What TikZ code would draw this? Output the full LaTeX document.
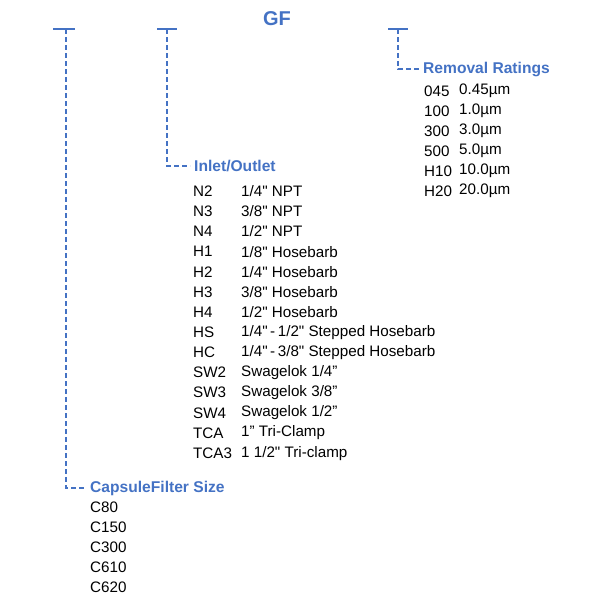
\documentclass[tikz,border=0pt]{standalone}
\usepackage{fontspec}
\setmainfont{Liberation Sans}[Ligatures=TeXOff]
\definecolor{hb}{HTML}{4472C4}
\begin{document}
\begin{tikzpicture}[x=1pt,y=1pt,
  bar/.style={hb, line width=1.5pt},
  lead/.style={hb, line width=1.5pt, dash pattern=on 5pt off 3pt},
  head/.style={anchor=west, text=hb, font=\bfseries\fontsize{15.6}{16}\selectfont, inner sep=0pt},
  item/.style={anchor=west, font=\fontsize{15.2}{15}\selectfont, inner sep=0pt, text=black}]
\useasboundingbox (0,0) rectangle (590,-600);
\node[text=hb, font=\bfseries\fontsize{20}{20}\selectfont] (gf) at (277,-19) {GF};
% bars
\coordinate (t1) at (66,-29); \coordinate (t2) at (167,-29); \coordinate (t3) at (398,-29);
\draw[bar] ([xshift=-13]t1) -- ([xshift=9]t1);
\draw[bar] ([xshift=-10]t2) -- ([xshift=10]t2);
\draw[bar] ([xshift=-10]t3) -- ([xshift=10]t3);
% headings
\node[head] (h1) at (90,-488) {CapsuleFilter Size};
\node[head] (h2) at (194,-166) {Inlet/Outlet};
\node[head] (h3) at (423,-69) {Removal Ratings};
\draw[lead] (t1) |- ([xshift=-4]h1.west);
\draw[lead] (t2) |- ([xshift=-4]h2.west);
\draw[lead] (t3) |- ([xshift=-4]h3.west);
% capsule sizes
\foreach \t [count=\i] in {C80,C150,C300,C610,C620}
  \node[item] (c\i) at (90,-487-20*\i) {\t};
% inlet/outlet
\foreach \a/\b [count=\i] in {N2/{1/4" NPT},N3/{3/8" NPT},N4/{1/2" NPT},H1/{1/8" Hosebarb},H2/{1/4" Hosebarb},H3/{3/8" Hosebarb},H4/{1/2" Hosebarb},HS/{1/4"\,-\,1/2" Stepped Hosebarb},HC/{1/4"\,-\,3/8" Stepped Hosebarb},SW2/{Swagelok 1/4”},SW3/{Swagelok 3/8”},SW4/{Swagelok 1/2”},TCA/{1” Tri-Clamp},TCA3/{1 1/2" Tri-clamp}}{
  \node[item] (ia\i) at (193,-171-20.15*\i) {\a};
  \node[item] (ib\i) at (241,-171-20.15*\i) {\b};
}
% removal ratings
\foreach \a/\b [count=\i] in {045/0.45µm,100/1.0µm,300/3.0µm,500/5.0µm,H10/10.0µm,H20/20.0µm}{
  \node[item] (ra\i) at (424,-71-20*\i) {\a};
  \node[item] (rb\i) at (459,-71-20*\i) {\b};
}
\end{tikzpicture}
\end{document}
